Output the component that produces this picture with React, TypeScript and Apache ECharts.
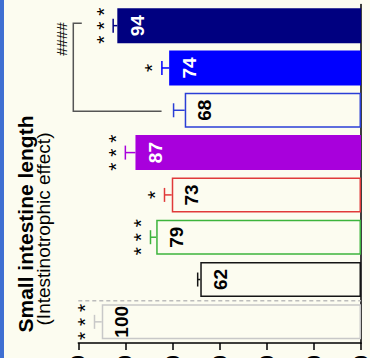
import React, { useEffect, useRef } from "react";
import * as echarts from "echarts";

// bottom-to-top order of the bars
const groups = ["Normal", "Vehicle", "Group A", "Group B", "Group C", "Group D", "Group E", "Group F"];
const values = [100, 62, 79, 73, 87, 68, 74, 94];
const errors = [2.8, 1.0, 2.2, 2.8, 3.9, 4.3, 2.8, 1.6];
const stars = ["* * *", "", "* * *", "*", "* * *", "", "*", "* * *"];
const barColors = ["#c8c8c8", "#151515", "#3cb43c", "#e03a3a", "#a800dc", "#2a3ed6", "#0000ff", "#000080"];
const filled = [false, false, false, false, true, false, true, true];
const axisTickValues = [0, 10, 20, 30, 40, 50, 60];
const titleText = "Small intestine length";
const subtitleText = "(Intestinotrophic effect)";
const bracketFrom = 5;
const bracketTo = 7;
const bracketText = "####";

const BG = "#fcfcf0";
const FONT = "'Liberation Sans', Arial, sans-serif";
const PCT_MAX = 109.05;

export default function App() {
  const ref = useRef<HTMLDivElement>(null);
  useEffect(() => {
    if (!ref.current) return;
    const chart = echarts.init(ref.current, null, { renderer: "svg" });
    const option: any = {
      animation: false,
      backgroundColor: BG,
      grid: { left: 78.3, right: 9, top: 4.5, bottom: 15, containLabel: false, outerBoundsMode: "none" },
      xAxis: [
        { type: "value", min: 0, max: PCT_MAX, inverse: true, show: false },
        {
          type: "value",
          min: axisTickValues[0],
          max: axisTickValues[axisTickValues.length - 1],
          interval: axisTickValues[1] - axisTickValues[0],
          inverse: true,
          position: "bottom",
          axisLine: { show: true, lineStyle: { color: "#000", width: 1.5 } },
          axisTick: { show: true, length: 7, lineStyle: { color: "#000", width: 1.5 } },
          splitLine: { show: false },
          axisLabel: {
            show: true,
            rotate: 90,
            margin: 12,
            fontSize: 20,
            fontWeight: "bold",
            color: "#000",
            fontFamily: FONT,
          },
        },
      ],
      yAxis: {
        type: "category",
        data: groups,
        position: "right",
        axisLine: { show: true, lineStyle: { color: "#000", width: 1.5 } },
        axisTick: { show: false },
        axisLabel: { show: false },
        splitLine: { show: false },
      },
      graphic: [
        { type: "rect", shape: { x: 0, y: 0, width: 4, height: 358 }, style: { fill: "#3f6fd2" } },
        {
          type: "text",
          x: 25,
          y: 224,
          rotation: Math.PI / 2,
          style: {
            text: titleText,
            x: 0,
            y: 0,
            align: "center",
            verticalAlign: "middle",
            fontSize: 21,
            fontWeight: "bold",
            fontFamily: FONT,
            fill: "#000",
          },
        },
        {
          type: "text",
          x: 43,
          y: 229,
          rotation: Math.PI / 2,
          style: {
            text: subtitleText,
            x: 0,
            y: 0,
            align: "center",
            verticalAlign: "middle",
            fontSize: 19,
            fontFamily: FONT,
            fill: "#000",
          },
        },
      ],
      series: [
        {
          type: "bar",
          xAxisIndex: 0,
          barWidth: 35,
          data: values.map((v, i) => ({
            value: v,
            itemStyle: {
              color: filled[i] ? barColors[i] : BG,
              borderColor: barColors[i],
              borderWidth: filled[i] ? 0 : 1.5,
            },
            label: { color: filled[i] ? "#fff" : "#000" },
          })),
          label: {
            show: true,
            position: [20, "50%"],
            rotate: 90,
            align: "center",
            verticalAlign: "middle",
            fontSize: 19,
            fontWeight: "bold",
            fontFamily: FONT,
          },
        },
        {
          type: "custom",
          xAxisIndex: 0,
          clip: false,
          data: values.map((v, i) => [v + errors[i], i]),
          encode: { x: 0, y: 1 },
          renderItem: (params: any, api: any) => {
            const i = params.dataIndex;
            const a = api.coord([values[i], i]);
            const b = api.coord([values[i] + errors[i], i]);
            const col = barColors[i];
            const children: any[] = [
              { type: "line", shape: { x1: a[0], y1: a[1], x2: b[0], y2: b[1] }, style: { stroke: col, lineWidth: 1.5 } },
              { type: "line", shape: { x1: b[0], y1: b[1] - 7, x2: b[0], y2: b[1] + 7 }, style: { stroke: col, lineWidth: 1.5 } },
            ];
            if (stars[i]) {
              children.push({
                type: "text",
                x: b[0] - 10,
                y: b[1],
                rotation: Math.PI / 2,
                style: {
                  text: stars[i],
                  x: 0,
                  y: 0,
                  align: "center",
                  verticalAlign: "middle",
                  fontSize: 21,
                  fontFamily: FONT,
                  fill: "#000",
                },
              });
            }
            return { type: "group", children };
          },
        },
        {
          type: "custom",
          xAxisIndex: 0,
          clip: false,
          data: [[0, 0]],
          encode: { x: 0, y: 1 },
          renderItem: (params: any, api: any) => {
            const c0 = api.coord([0, 0]);
            const c1 = api.coord([0, 1]);
            const left = api.coord([PCT_MAX, 0]);
            const y = (c0[1] + c1[1]) / 2;
            return {
              type: "line",
              shape: { x1: left[0], y1: y, x2: c0[0], y2: y },
              style: { stroke: "#bcbcbc", lineWidth: 1.5, lineDash: [4, 3] },
            };
          },
        },
        {
          type: "custom",
          xAxisIndex: 0,
          clip: false,
          data: [[bracketFrom, bracketTo]],
          renderItem: (params: any, api: any) => {
            const edge = api.coord([PCT_MAX, bracketTo])[0];
            const top = api.coord([PCT_MAX, bracketTo]);
            const low = api.coord([values[bracketFrom] + errors[bracketFrom], bracketFrom]);
            const xv = edge - 5;
            const yTop = top[1] - 2.5;
            const yLow = low[1] + 1;
            const st = { stroke: "#555", lineWidth: 1.5, fill: "none" };
            return {
              type: "group",
              children: [
                {
                  type: "polyline",
                  shape: { points: [[edge + 3.5, yTop], [xv, yTop], [xv, yLow], [low[0] - 12, yLow]] },
                  style: st,
                },
                {
                  type: "text",
                  x: edge - 16.5,
                  y: yTop + 16,
                  rotation: Math.PI / 2,
                  style: {
                    text: bracketText,
                    x: 0,
                    y: 0,
                    align: "center",
                    verticalAlign: "middle",
                    fontSize: 15,
                    fontFamily: FONT,
                    fill: "#000",
                  },
                },
              ],
            };
          },
        },
      ],
    };
    chart.setOption(option);
    return () => chart.dispose();
  }, []);
  return (
    <div
      ref={ref}
      style={{ position: "fixed", left: 0, top: 0, width: 370, height: 358 }}
    />
  );
}
